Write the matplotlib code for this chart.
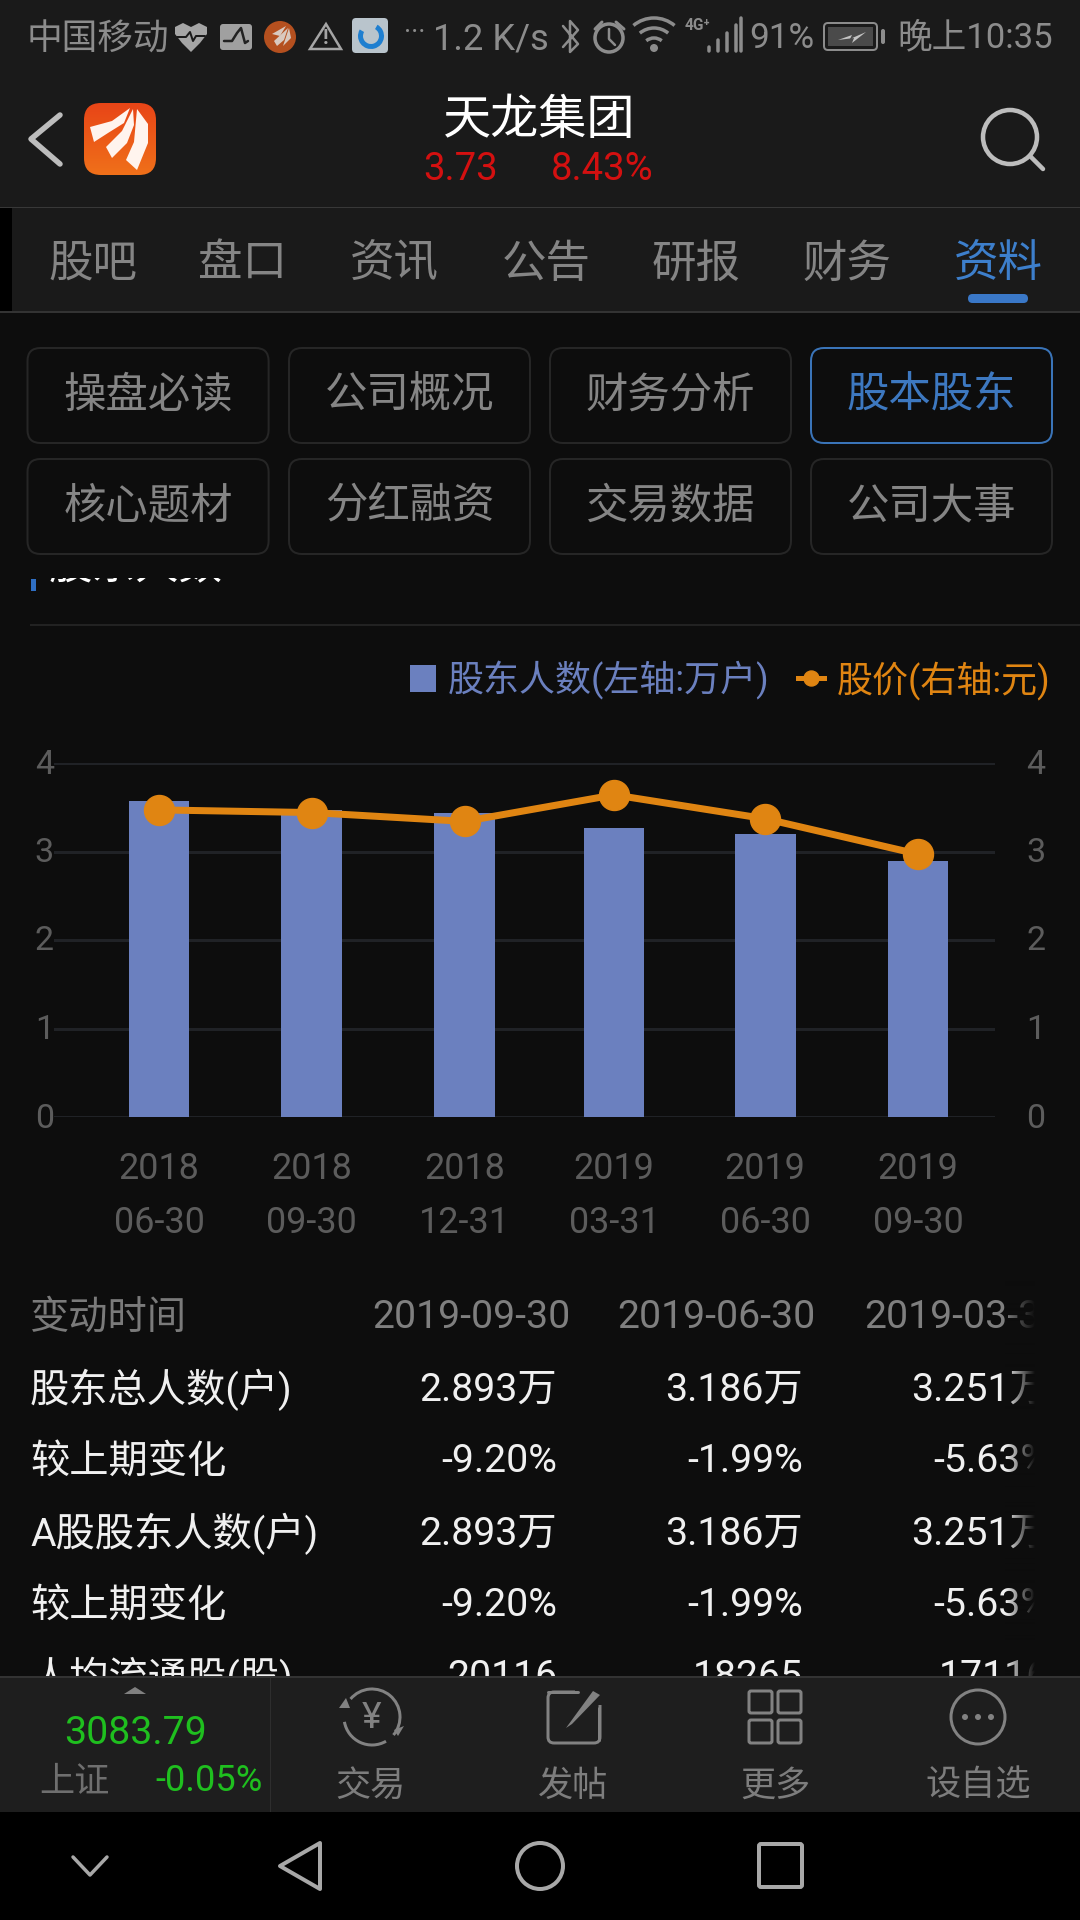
import numpy as np
import pandas as pd
import matplotlib
matplotlib.use("Agg")
import matplotlib.pyplot as plt
import matplotlib.transforms as mtrans
from matplotlib.patches import FancyBboxPatch, Rectangle, Circle, Polygon, Arc, Wedge
from matplotlib.lines import Line2D

# ---------- data ----------
report_dates = ["2018-06-30", "2018-09-30", "2018-12-31", "2019-03-31", "2019-06-30", "2019-09-30"]
periods = ["2018\n06-30", "2018\n09-30", "2018\n12-31", "2019\n03-31", "2019\n06-30", "2019\n09-30"]
holders = [3.57, 3.47, 3.44, 3.27, 3.20, 2.893]
price = [3.47, 3.44, 3.34, 3.64, 3.37, 2.97]
y_ticks = [0, 1, 2, 3, 4]
legend_labels = ["股东人数(左轴:万户)", "股价(右轴:元)"]
tabs = ["股吧", "盘口", "资讯", "公告", "研报", "财务", "资料"]
buttons_row1 = ["操盘必读", "公司概况", "财务分析", "股本股东"]
buttons_row2 = ["核心题材", "分红融资", "交易数据", "公司大事"]
table_rows = ["变动时间", "股东总人数(户)", "较上期变化", "A股股东人数(户)", "较上期变化", "人均流通股(股)"]
table_col1 = ["2019-09-30", "2.893万", "-9.20%", "2.893万", "-9.20%", "20116"]
table_col2 = ["2019-06-30", "3.186万", "-1.99%", "3.186万", "-1.99%", "18265"]
table_col3 = ["2019-03-31", "3.251万", "-5.63%", "3.251万", "-5.63%", "17116"]
dock_labels = ["交易", "发帖", "更多", "设自选"]

# ---------- style ----------
FONT = ["Roboto", "Noto Sans CJK SC", "DejaVu Sans"]
plt.rcParams["font.family"] = FONT
BG_TOP = "#1a1a1a"
BG_MAIN = "#0d0d0d"
BLUE = "#6b80bf"
ORANGE = "#e08512"
AXIS_TXT = "#5c5c5c"
GRID = "#202226"
PX = 0.72
TPX = 0.745   # text scale for the interface labels

fig = plt.figure(figsize=(10.8, 19.2), dpi=100, facecolor=BG_MAIN)
ui = fig.add_axes([0, 0, 1, 1], zorder=0)
ui.set_xlim(0, 1080)
ui.set_ylim(1920, 0)
ui.axis("off")


def T(x, y, s, px, color, ha="center", va="center", z=3, weight="normal"):
    return ui.text(x, y + 3, s, fontsize=px * TPX, color=color, ha=ha, va=va, zorder=z,
                   family=FONT, weight=weight)


def R(x0, y0, x1, y1, color, z=1):
    ui.add_patch(Rectangle((x0, y0), x1 - x0, y1 - y0, fc=color, ec="none", zorder=z))


def L(xs, ys, color, lw, z=8):
    ui.add_line(Line2D(xs, ys, color=color, lw=lw * PX, zorder=z,
                       solid_capstyle="round", solid_joinstyle="round"))


def RB(x0, y0, x1, y1, r, ec, fc="none", lw=2, z=2):
    p = FancyBboxPatch((x0 + r, y0 + r), x1 - x0 - 2 * r, y1 - y0 - 2 * r,
                       boxstyle=f"round,pad={r},rounding_size={r}",
                       ec=ec, fc=fc, lw=lw * PX, zorder=z)
    ui.add_patch(p)
    return p


# ---------- header ----------
R(0, 0, 1080, 312, BG_TOP)
R(0, 206.5, 1080, 208, "#383838", 2)
R(0, 311, 1080, 312.5, "#333333", 2)
R(0, 208, 12, 311, "#000000", 2)

GREY = "#8c8c8c"
T(27, 37, "中国移动", 34.5, GREY, ha="left")
# status icons
heart_x = [191, 182, 175, 175, 183, 191, 199, 207, 207, 200]
heart_y = [52, 43, 34, 27, 23, 27, 23, 27, 34, 43]
ui.add_patch(Polygon(np.c_[heart_x, heart_y], fc="#a5a5a5", ec="none", zorder=4))
L([177, 186, 190, 193, 196, 205], [37, 37, 32, 41, 36, 36], BG_TOP, 2)
RB(220, 24, 252, 50, 3, "none", "#a0a0a0", z=4)
L([224, 232, 237, 241, 245, 248], [41, 41, 33, 28, 43, 41], "#222222", 2.5)
ui.add_patch(Circle((280, 37), 16, fc="#b5501f", ec="none", zorder=4))
ui.add_patch(Polygon([(272, 34), (286, 26), (280, 36)], fc="#d9c9bf", ec="none", zorder=5))
ui.add_patch(Polygon([(274, 41), (288, 28), (284, 40), (277, 46)], fc="#d9c9bf", ec="none", zorder=5))
ui.add_patch(Polygon([(283, 46), (289, 28), (291, 38)], fc="#d9c9bf", ec="none", zorder=5))
ui.add_patch(Polygon([(326, 24), (310, 49), (341, 49)], fc="none", ec="#a5a5a5", lw=2.5 * PX, zorder=4))
T(326, 36, "!", 20, "#a5a5a5", weight="bold")
RB(352, 18, 388, 53, 4, "none", "#b9c4cc", z=4)
ui.add_patch(Wedge((371, 36), 13, 300, 210, width=5, fc="#1f7fd0", ec="none", zorder=5))
T(415, 30, "···", 26, GREY)
T(433, 36, "1.2 K/s", 35, GREY, ha="left")
L([563, 578, 570, 570, 578, 563], [26, 44, 52, 21, 30, 47], GREY, 2.5)
ui.add_patch(Circle((609, 38), 14, fc="none", ec=GREY, lw=3.5 * PX, zorder=4))
L([609, 609, 615], [29, 39, 45], GREY, 2.5)
L([595, 602], [29, 22], GREY, 3)
L([616, 624], [22, 29], GREY, 3)
for r_, t1, t2 in [(32, 50, 130), (22, 50, 130), (12, 50, 130)]:
    ui.add_patch(Arc((654, 50), 2 * r_, 2 * r_, theta1=360 - t2, theta2=360 - t1,
                     ec=GREY, lw=3.5 * PX, zorder=4))
ui.add_patch(Circle((654, 48), 4, fc=GREY, ec="none", zorder=4))
T(697, 23, "4G⁺", 15, GREY, weight="bold")
for x_, h_ in zip([709, 718, 727, 736, 741], [4, 11, 18, 26, 33]):
    L([x_, x_], [51, 51 - h_], GREY, 3.5)
T(749, 35, "91%", 34, GREY, ha="left")
RB(824, 23, 877, 50, 4, "#8c8c8c", "none", lw=2, z=4)
R(828, 27, 873, 46, "#4a4a4a", 4)
ui.add_patch(Polygon([(838, 40), (852, 35), (850, 39), (866, 32), (852, 43), (854, 38)],
                     fc="#c4c4c4", ec="none", zorder=5))
RB(881, 29, 885, 44, 2, "none", GREY, z=4)
T(897, 35, "晚上10:35", 33.5, GREY, ha="left")

# title row
L([60, 31, 60], [115, 139, 164], "#bdbdbd", 5.5)
grad = np.linspace(0, 1, 80)[:, None, None] * np.array([[[0.94 - 0.91, 0.44 - 0.27, 0.10 - 0.09]]]) \
    + np.array([[[0.91, 0.27, 0.09]]])
icon = ui.imshow(grad, extent=(84, 156, 175, 103), aspect="auto", zorder=3)
clip = RB(84, 103, 156, 175, 17, "none", "none", lw=0, z=1)
icon.set_clip_path(clip)
ui.set_xlim(0, 1080)
ui.set_ylim(1920, 0)
ui.add_patch(Polygon([(90, 127), (112, 121), (130, 108), (124, 123), (108, 133), (94, 142)],
                     fc="#fff4ee", ec="none", zorder=4))
ui.add_patch(Polygon([(106, 147), (122, 131), (133, 109), (134, 125), (127, 143), (112, 158)],
                     fc="#fff4ee", ec="none", zorder=4))
ui.add_patch(Polygon([(126, 160), (134, 142), (137, 109), (148, 124), (148, 143), (137, 170)],
                     fc="#fff4ee", ec="none", zorder=4))
T(539, 118, "天龙集团", 46.5, "#ffffff")
T(461, 167, "3.73", 37, "#d41010")
T(602, 167, "8.43%", 37, "#d41010")
ui.add_patch(Circle((1010, 137), 27, fc="none", ec="#bdbdbd", lw=4.5 * PX, zorder=4))
L([1030, 1043], [156, 169], "#bdbdbd", 4.5)

# tabs
tab_x = [93, 242.5, 394.6, 546, 696, 847, 998]
for x_, s in zip(tab_x, tabs):
    T(x_, 262, s, 43, "#3d7fcc" if s == "资料" else "#858585")
RB(968, 294, 1028, 303, 4.5, "none", "#3a78c8", z=3)

# buttons
btn_x = [(27.5, 268.6), (289, 530), (550, 791), (811, 1052)]
for (x0, x1), s in zip(btn_x, buttons_row1):
    sel = s == "股本股东"
    RB(x0, 348, x1, 443, 13, "#3a74b8" if sel else "#262626", lw=2)
    T((x0 + x1) / 2, 393, s, 41, "#3d78c0" if sel else "#858585")
for (x0, x1), s in zip(btn_x, buttons_row2):
    RB(x0, 459, x1, 554, 13, "#262626", lw=2)
    T((x0 + x1) / 2, 504, s, 41, "#858585")

# scrolled section heading (clipped by the rectangle above it)
T(48, 564, "股东人数", 42, "#ffffff", ha="left", z=1.5)
R(0, 525, 1080, 577.5, BG_MAIN, 1.8)
R(31, 579, 36, 591, "#2f6fc4", 2)
R(30, 624, 1080, 626, "#222222", 2)

# ---------- table ----------
row_y = [1315, 1387, 1459, 1531, 1603, 1675]
for i, (y_, s) in enumerate(zip(row_y, table_rows)):
    c = "#7a7a7a" if i == 0 else "#f0f0f0"
    T(30, y_, s, 38, c, ha="left")
for col, head_x, right_x in [(table_col1, 372, 557), (table_col2, 617, 803), (table_col3, 864, 1049)]:
    for i, (y_, s) in enumerate(zip(row_y, col)):
        if i == 0:
            T(head_x, y_, s, 38, "#7f7f7f", ha="left")
        else:
            T(right_x, y_, s, 38, "#f0f0f0", ha="right")
# right-hand fade of the scrolling table
fade = np.zeros((1, 60, 4))
fade[..., :3] = matplotlib.colors.to_rgb(BG_MAIN)
fade[..., 3] = np.linspace(0, 1, 60)
ui.imshow(fade, extent=(1005, 1035, 1690, 1280), aspect="auto", zorder=4)
ui.set_xlim(0, 1080)
ui.set_ylim(1920, 0)
R(1035, 1280, 1080, 1690, BG_MAIN, 4)

# ---------- chart ----------
ax = fig.add_axes([54 / 1080, 1 - 1117 / 1920, (995 - 54) / 1080, (1117 - 763) / 1920], zorder=1)
ax.patch.set_alpha(0)
dates = pd.to_datetime(report_dates)
xpos = np.array((dates - dates[0]).days, dtype=float)
bars = ax.bar(xpos, holders, width=36.5, color=BLUE, zorder=3, label=legend_labels[0])
ax.set_xlim(-63.2, 503.3)
ax.set_ylim(0, 4)
ax.set_yticks(y_ticks)
ax.set_xticks(xpos, periods)
ax.grid(axis="y", color=GRID, lw=3 * PX, zorder=0)
ax.set_axisbelow(True)
ax.tick_params(axis="y", length=0, pad=0, labelsize=34 * PX, labelcolor=AXIS_TXT)
ax.tick_params(axis="x", length=0, pad=34 * PX, labelsize=36 * PX, labelcolor=AXIS_TXT)
for lab in ax.get_xticklabels():
    lab.set_linespacing(1.66)
for s in ax.spines.values():
    s.set_visible(False)

ax2 = ax.twinx()
ax2.set_zorder(2)
ax2.patch.set_alpha(0)
ax2.set_ylim(0, 4)
ax2.set_yticks(y_ticks)
ax2.tick_params(axis="y", length=0, pad=31 * PX, labelsize=34 * PX, labelcolor=AXIS_TXT)
for s in ax2.spines.values():
    s.set_visible(False)
up = mtrans.ScaledTranslation(0, 2 / 100, fig.dpi_scale_trans)
for a in (ax, ax2):
    for lab in a.get_yticklabels():
        lab.set_transform(lab.get_transform() + up)
line, = ax2.plot(xpos, price, color=ORANGE, lw=7 * PX, marker="o", ms=30 * PX,
                 mec=ORANGE, mfc=ORANGE, zorder=5, label=legend_labels[1])

legend_line = Line2D([], [], color=ORANGE, lw=5 * PX, marker="o", ms=15 * PX, mec=ORANGE, mfc=ORANGE)
leg = ax2.legend([bars, legend_line], legend_labels, ncol=2, frameon=False,
                 loc="center right", bbox_to_anchor=(1050 / 1080, 1 - 680 / 1920),
                 bbox_transform=fig.transFigure, fontsize=36 * PX, handlelength=0.72,
                 handleheight=0.75, handletextpad=0.33, columnspacing=0.8, borderaxespad=0,
                 borderpad=0, labelcolor=[BLUE, ORANGE])

# ---------- bottom dock ----------
R(0, 1677, 1080, 1812, "#1e1e1e", 6)
R(0, 1676, 1080, 1678, "#333333", 6.5)
R(269.5, 1678, 270.5, 1812, "#2e2e2e", 6.5)
ui.add_patch(Polygon([(135, 1687), (124, 1694), (146, 1694)], fc="#808080", ec="none", zorder=7))
T(135, 1730, "3083.79", 38, "#1fbf1f", z=7)
T(39, 1779, "上证", 34, "#6f6f6f", ha="left", z=7)
T(263, 1778, "-0.05%", 35, "#1fbf1f", ha="right", z=7)
for x_, s in zip([370, 573, 775, 978], dock_labels):
    T(x_, 1783, s, 34, "#7d7d7d", z=7)
IC = "#828282"
ui.add_patch(Arc((372, 1717), 56, 56, theta1=220, theta2=400, ec=IC, lw=3 * PX, zorder=7))
ui.add_patch(Arc((372, 1717), 56, 56, theta1=60, theta2=170, ec=IC, lw=3 * PX, zorder=7))
ui.add_patch(Polygon([(339, 1708), (350, 1708), (346, 1698)], fc=IC, ec="none", zorder=7))
ui.add_patch(Polygon([(394, 1730), (404, 1726), (398, 1736)], fc=IC, ec="none", zorder=7))
T(372, 1715, "¥", 36, IC, z=7)
RB(548, 1692, 600, 1743, 6, IC, lw=3, z=7)
R(575, 1685, 604, 1705, "#1e1e1e", 7.1)
L([599, 599], [1708, 1740], IC, 3, z=7.2)
L([548, 578], [1692, 1692], IC, 3, z=7.2)
ui.add_patch(Polygon([(566, 1728), (593, 1691), (600, 1695), (572, 1724)], fc=IC, ec="none", zorder=7.2))
for (x0, x1) in [(749, 772), (778, 801)]:
    for (y0, y1) in [(1691, 1713), (1720, 1743)]:
        RB(x0, y0, x1, y1, 2, IC, lw=3, z=7)
ui.add_patch(Circle((978, 1717), 27, fc="none", ec=IC, lw=3 * PX, zorder=7))
for dx in (-13, 0, 13):
    ui.add_patch(Circle((978 + dx, 1717), 3, fc=IC, ec="none", zorder=7))

# ---------- nav bar ----------
R(0, 1812, 1080, 1920, "#000000", 6)
NAV = "#a8a8a8"
L([73, 90, 107], [1857, 1875, 1857], NAV, 3.5)
ui.add_patch(Polygon([(320, 1843), (280, 1866), (320, 1889)], fc="none", ec=NAV, lw=4 * PX,
                     joinstyle="round", zorder=7))
ui.add_patch(Circle((540, 1866), 23, fc="none", ec=NAV, lw=4 * PX, zorder=7))
RB(759, 1844, 802, 1887, 2, NAV, lw=4, z=7)

fig.savefig("out.png", dpi=100, facecolor=fig.get_facecolor())
